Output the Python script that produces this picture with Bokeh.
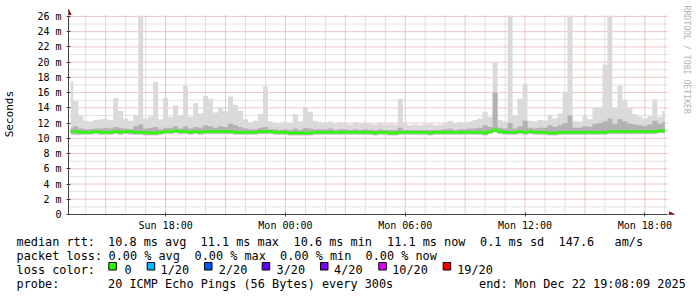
import math
from bokeh.plotting import figure
from bokeh.layouts import column
from bokeh.models import Range1d, FixedTicker, Arrow, NormalHead
from bokeh.core.properties import value
from bokeh.embed import file_html
from bokeh.resources import INLINE

# ---------------- data ----------------
# time axis in hours since Sun 00:00; graph ends Mon Dec 22 19:08:09 2025, spans 30 h
end_hour = 24 + 19 + 8 / 60 + 9 / 3600
start_hour = end_hour - 30
bin_start = 13.25     # first 15-minute bin (Sun 13:15)
bin_step = 0.25

median_ms = [
    10.9, 10.9, 10.8, 10.8, 10.8, 10.9, 10.8, 10.8, 10.8, 10.9,
    10.8, 10.9, 10.9, 10.8, 10.8, 10.8, 10.7, 10.7, 10.8, 10.9,
    10.9, 11.0, 10.9, 10.9, 10.8, 10.9, 10.8, 10.9, 10.9, 10.9,
    10.9, 10.9, 10.9, 10.8, 10.8, 10.8, 10.8, 10.8, 10.9, 10.9,
    10.9, 10.8, 10.8, 10.8, 10.7, 10.7, 10.7, 10.7, 10.7, 10.8,
    10.8, 10.8, 10.8, 10.8, 10.8, 10.8, 10.8, 10.8, 10.8, 10.8,
    10.8, 10.7, 10.8, 10.8, 10.7, 10.7, 10.8, 10.8, 10.8, 10.8,
    10.8, 10.8, 10.7, 10.8, 10.8, 10.8, 10.8, 10.8, 10.8, 10.8,
    10.8, 10.8, 10.8, 10.7, 10.9, 11.1, 10.9, 10.8, 10.8, 10.8,
    10.9, 10.8, 10.9, 10.8, 10.8, 10.8, 10.7, 10.7, 10.8, 10.8,
    10.8, 10.8, 10.8, 10.8, 10.8, 10.8, 10.8, 10.8, 10.9, 10.9,
    10.9, 10.9, 10.9, 10.9, 10.9, 10.9, 10.9, 10.9, 11.0, 11.0,
]

rtt_min = [
    10.5, 10.5, 10.5, 10.5, 10.5, 10.6, 10.5, 10.5, 10.5, 10.6,
    10.5, 10.6, 10.5, 10.5, 10.5, 10.4, 10.4, 10.4, 10.5, 10.6,
    10.6, 10.7, 10.6, 10.6, 10.5, 10.6, 10.5, 10.6, 10.6, 10.6,
    10.6, 10.6, 10.6, 10.5, 10.5, 10.5, 10.5, 10.5, 10.6, 10.6,
    10.6, 10.5, 10.5, 10.5, 10.4, 10.4, 10.4, 10.4, 10.4, 10.5,
    10.5, 10.5, 10.5, 10.5, 10.5, 10.5, 10.5, 10.5, 10.5, 10.5,
    10.5, 10.4, 10.5, 10.5, 10.4, 10.4, 10.5, 10.5, 10.5, 10.5,
    10.5, 10.5, 10.4, 10.5, 10.5, 10.5, 10.5, 10.5, 10.5, 10.5,
    10.5, 10.5, 10.5, 10.4, 10.6, 10.8, 10.6, 10.5, 10.5, 10.5,
    10.6, 10.5, 10.6, 10.5, 10.5, 10.5, 10.4, 10.4, 10.5, 10.5,
    10.5, 10.5, 10.5, 10.5, 10.5, 10.5, 10.5, 10.5, 10.6, 10.6,
    10.6, 10.6, 10.6, 10.6, 10.6, 10.6, 10.6, 10.6, 10.7, 10.7,
]

rtt_upper = [
    11.4, 11.6, 11.3, 11.2, 11.2, 11.3, 11.3, 11.4, 11.3, 11.5,
    11.4, 11.3, 11.2, 11.6, 11.8, 11.3, 11.4, 11.5, 11.2, 11.4,
    11.4, 11.6, 11.3, 11.6, 11.3, 11.5, 11.4, 11.7, 11.6, 11.4,
    11.6, 11.5, 11.9, 11.7, 11.5, 11.3, 11.2, 11.2, 11.4, 11.5,
    11.2, 11.2, 11.1, 11.2, 11.1, 11.3, 11.1, 11.4, 11.3, 11.2,
    11.2, 11.2, 11.3, 11.1, 11.2, 11.2, 11.1, 11.2, 11.1, 11.2,
    11.1, 11.1, 11.2, 11.1, 11.1, 11.1, 11.4, 11.1, 11.1, 11.1,
    11.1, 11.1, 11.1, 11.1, 11.1, 11.2, 11.3, 11.1, 11.2, 11.2,
    11.3, 11.3, 11.4, 11.7, 11.5, 16.0, 11.4, 11.3, 12.0, 11.3,
    11.6, 12.3, 11.4, 11.3, 11.4, 11.4, 11.7, 11.5, 11.7, 12.0,
    13.0, 11.4, 11.4, 11.6, 11.5, 11.9, 12.0, 12.2, 12.6, 11.9,
    12.5, 12.2, 11.9, 11.8, 11.7, 11.6, 11.8, 12.3, 11.9, 12.1,
]

rtt_max = [
    17.5, 14.9, 13.0, 12.3, 12.2, 12.4, 12.5, 12.6, 12.4, 15.3,
    13.6, 12.6, 12.3, 13.1, 26.1, 12.6, 12.9, 17.4, 12.5, 15.3,
    12.8, 14.3, 13.0, 16.9, 12.8, 14.6, 13.3, 15.6, 15.2, 13.4,
    14.0, 13.6, 15.5, 14.4, 13.6, 12.5, 12.1, 12.3, 13.2, 16.8,
    12.2, 12.0, 11.9, 12.1, 12.0, 13.2, 12.2, 14.0, 13.5, 12.3,
    12.1, 12.0, 12.2, 11.9, 12.1, 12.0, 11.8, 12.1, 11.9, 12.0,
    11.9, 11.8, 12.0, 11.8, 11.9, 11.8, 15.2, 11.9, 11.7, 11.8,
    11.7, 11.8, 11.9, 11.7, 11.8, 12.0, 12.3, 11.9, 12.1, 12.0,
    12.2, 12.4, 12.6, 13.5, 12.8, 19.9, 12.4, 12.2, 26.1, 13.0,
    15.2, 17.2, 12.3, 12.2, 12.4, 12.3, 13.1, 12.6, 13.3, 16.1,
    26.1, 12.3, 12.2, 12.9, 12.5, 14.0, 14.0, 19.7, 26.1, 14.0,
    16.9, 15.0, 14.0, 13.2, 12.9, 12.6, 12.9, 15.1, 12.8, 13.6,
]

hours = [bin_start + bin_step * i for i in range(len(median_ms))]

x_tick_hours = [18, 24, 30, 36, 42]
x_tick_labels = ["Sun 18:00", "Mon 00:00", "Mon 06:00", "Mon 12:00", "Mon 18:00"]
y_ticks = [0, 2, 4, 6, 8, 10, 12, 14, 16, 18, 20, 22, 24, 26]
y_tick_labels = ["0", "2 m", "4 m", "6 m", "8 m", "10 m", "12 m", "14 m",
                 "16 m", "18 m", "20 m", "22 m", "24 m", "26 m"]

rtt_line = ["median rtt:", "10.8 ms avg", "11.1 ms max", "10.6 ms min",
            "11.1 ms now", "0.1 ms sd", "147.6", "am/s"]
loss_line = ["packet loss:", "0.00 % avg", "0.00 % max", "0.00 % min", "0.00 % now"]
loss_labels = ["0", "1/20", "2/20", "3/20", "4/20", "10/20", "19/20"]
loss_colors = ["#26ff00", "#00b8ff", "#0059ff", "#5e00ff", "#7e00ff", "#dd00ff", "#ff0000"]
probe_line = ["probe:", "20 ICMP Echo Pings (56 Bytes) every 300s",
              "end: Mon Dec 22 19:08:09 2025"]
credit = "RRDTOOL / TOBI OETIKER"

MONO = "DejaVu Sans Mono"

# ---------------- main graph ----------------
# 20 px per hour, 199 px per 26 ms; the frame also covers the top strip and the
# right margin so the axis arrows and the credit line can be drawn as glyphs
px_per_ms = 199 / 26
p = figure(width=697, height=233,
           x_range=Range1d(start_hour, start_hour + 630 / 20),
           y_range=Range1d(0, 215 / px_per_ms),
           toolbar_location=None, output_backend="svg",
           min_border_left=67, min_border_right=0,
           min_border_top=0, min_border_bottom=18)
p.outline_line_color = None
p.background_fill_color = "white"
p.border_fill_color = "white"
p.xgrid.visible = False
p.ygrid.visible = False

major_col = "#dd8f8f"
minor_col = "#c4c4c4"
major_x = [h for h in range(15, 44) if h % 3 == 0]
minor_x = [h for h in range(14, 44) if h % 3 != 0]
minor_y = list(range(1, 27, 2))
major_y = y_ticks[1:]
top_ms = 26.15
p.segment(x0=minor_x, x1=minor_x, y0=[0] * len(minor_x), y1=[top_ms] * len(minor_x),
          line_color=minor_col, line_dash="1 1", line_width=1, level="underlay")
p.segment(x0=[start_hour] * len(minor_y), x1=[end_hour + 0.05] * len(minor_y), y0=minor_y, y1=minor_y,
          line_color=minor_col, line_dash="1 1", line_width=1, level="underlay")
p.segment(x0=major_x, x1=major_x, y0=[0] * len(major_x), y1=[top_ms] * len(major_x),
          line_color=major_col, line_dash="1 1", line_width=1, level="underlay")
p.segment(x0=[start_hour] * len(major_y), x1=[end_hour + 0.05] * len(major_y), y0=major_y, y1=major_y,
          line_color=major_col, line_dash="1 1", line_width=1, level="underlay")

# smoke
p.varea_step(x=hours, y1=rtt_min, y2=rtt_max, step_mode="center", fill_color="#dadada")
p.varea_step(x=hours, y1=rtt_min, y2=rtt_upper, step_mode="center", fill_color="#b2b2b2")
# median line
p.step(x=hours, y=median_ms, mode="center", line_color="#26ff00", line_width=2.5)

# axes
axis_color = "#404040"
p.xaxis.ticker = FixedTicker(ticks=x_tick_hours)
p.xaxis.major_label_overrides = dict(zip(x_tick_hours, x_tick_labels))
p.xaxis.bounds = (start_hour, end_hour)
p.yaxis.ticker = FixedTicker(ticks=y_ticks)
p.yaxis.major_label_overrides = dict(zip(y_ticks, y_tick_labels))
p.yaxis.bounds = (0, 26)
for ax in (p.xaxis, p.yaxis):
    ax.axis_line_color = axis_color
    ax.major_tick_line_color = axis_color
    ax.major_tick_in = 2
    ax.major_tick_out = 2
    ax.minor_tick_line_color = None
    ax.major_label_text_font = MONO
    ax.major_label_text_font_size = "10px"
    ax.major_label_text_color = "#000000"
p.xaxis.major_label_standoff = 3
p.yaxis.major_label_standoff = 5
p.yaxis.axis_label = "Seconds\u00a0\u00a0"
p.yaxis.axis_label_text_font = MONO
p.yaxis.axis_label_text_font_size = "11px"
p.yaxis.axis_label_text_font_style = "normal"
p.yaxis.axis_label_text_color = "#000000"
p.yaxis.axis_label_standoff = 18

# axis arrows
arrow_red = "#a00000"
p.add_layout(Arrow(end=NormalHead(size=5, fill_color=arrow_red, line_color=arrow_red),
                   x_start=start_hour, y_start=26, x_end=start_hour, y_end=206 / px_per_ms,
                   line_color=axis_color, line_width=1))
p.add_layout(Arrow(end=NormalHead(size=5, fill_color=arrow_red, line_color=arrow_red),
                   x_start=end_hour, y_start=0, x_end=end_hour + 0.35, y_end=0,
                   line_color=axis_color, line_width=1))

# vertical credit text
p.text(x=[end_hour + 0.95], y=[210 / px_per_ms], text=[credit], angle=-math.pi / 2,
       text_font=value(MONO), text_font_size=value("8.2px"), text_color="#b4b4b4",
       text_align="left", text_baseline="middle")

# ---------------- legend block ----------------
leg = figure(width=697, height=64, x_range=Range1d(0, 697), y_range=Range1d(64, 0),
             toolbar_location=None, output_backend="svg", min_border=0,
             x_axis_location=None, y_axis_location=None)
try:
    leg.frame_align = False
    p.frame_align = False
except Exception:
    pass
leg.outline_line_color = None
leg.grid.visible = False

rtt_x = [16, 107.5, 200, 293, 386.5, 479.5, 558, 614]
loss_x = [16, 108, 194, 279.5, 365]
box_x = [108.3, 146.7, 204, 261.7, 320, 378.3, 442.7]
box_label_x = [124, 160, 218.3, 276, 333.5, 391.7, 456.7]
probe_x = [16, 107.5, 478.5]

txt_x = rtt_x + loss_x + [16] + box_label_x + probe_x
txt_y = ([8] * len(rtt_line) + [22] * len(loss_line) + [36] * (1 + len(loss_labels))
         + [50] * len(probe_line))
txt = rtt_line + loss_line + ["loss color:"] + loss_labels + probe_line
leg.text(x=txt_x, y=txt_y, text=txt, text_font=value(MONO), text_font_size=value("11.85px"),
         text_color="#000000", text_baseline="alphabetic", text_align="left")

leg.quad(left=box_x, right=[b + 7.5 for b in box_x], top=[29] * len(box_x),
         bottom=[36.5] * len(box_x), fill_color=loss_colors, line_color="#000000", line_width=1)

layout = column(p, leg, spacing=0)
open("out.html", "w").write(file_html(layout, INLINE))
